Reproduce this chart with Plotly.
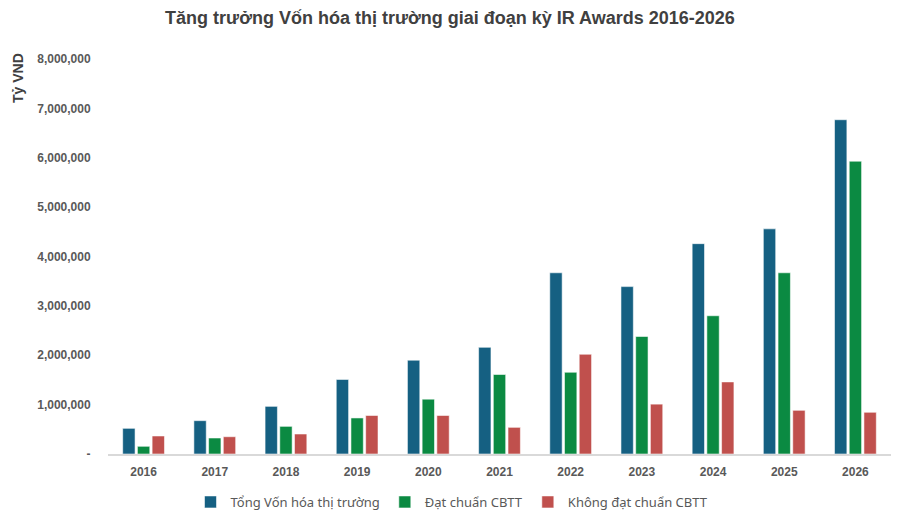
import plotly.graph_objects as go

years = ["2016", "2017", "2018", "2019", "2020", "2021", "2022", "2023", "2024", "2025", "2026"]
tong_von_hoa = [520000, 675000, 965000, 1510000, 1900000, 2160000, 3670000, 3390000, 4260000, 4560000, 6770000]
dat_chuan = [156000, 324000, 560000, 730000, 1110000, 1610000, 1655000, 2380000, 2800000, 3670000, 5930000]
khong_dat_chuan = [365000, 350000, 405000, 780000, 780000, 540000, 2020000, 1010000, 1460000, 885000, 845000]

series_names = ["Tổng Vốn hóa thị trường", "Đạt chuẩn CBTT", "Không đạt chuẩn CBTT"]
colors = ["#156082", "#0B8A42", "#C0504D"]

y_tickvals = [0, 1000000, 2000000, 3000000, 4000000, 5000000, 6000000, 7000000, 8000000]
y_ticktext = ["-", "1,000,000", "2,000,000", "3,000,000", "4,000,000", "5,000,000", "6,000,000", "7,000,000", "8,000,000"]

fig = go.Figure()
for name, vals, c in zip(series_names, [tong_von_hoa, dat_chuan, khong_dat_chuan], colors):
    fig.add_trace(go.Bar(
        x=years, y=vals, name=name,
        marker=dict(color=c, line=dict(color="rgba(255,255,255,0.55)", width=1)),
    ))

fig.update_layout(
    width=900, height=519, autosize=False,
    margin=dict(l=108, r=9, t=59, b=65, autoexpand=False),
    paper_bgcolor="white", plot_bgcolor="white",
    barmode="group", bargap=0.38, bargroupgap=0.16,
    title=dict(
        text="<b>Tăng trưởng Vốn hóa thị trường giai đoạn kỳ IR Awards 2016-2026</b>",
        x=0.5, xanchor="center", xref="container",
        y=1 - 18 / 519, yanchor="middle", yref="container",
        font=dict(family="Liberation Sans, Arial, sans-serif", size=18, color="#404040"),
    ),
    showlegend=True,
    legend=dict(
        orientation="h", x=(452 - 108) / 783, xanchor="center", xref="paper",
        y=-48 / 395, yanchor="middle", yref="paper",
        font=dict(family="Noto Sans, sans-serif", size=13, color="#595959"),
        itemwidth=30,
    ),
    font=dict(family="Liberation Sans, Arial, sans-serif"),
)

fig.update_xaxes(
    showgrid=False, showline=True, linecolor="#D9D9D9", linewidth=2,
    ticks="outside", ticklen=6, tickcolor="rgba(0,0,0,0)", tickangle=0,
    tickfont=dict(family="Liberation Sans, Arial, sans-serif", size=12, color="#595959", weight="bold"),
)
fig.update_yaxes(
    range=[0, 8000000], tickvals=y_tickvals, ticktext=y_ticktext,
    showgrid=False, showline=False, zeroline=False,
    ticks="outside", ticklen=14, tickcolor="rgba(0,0,0,0)",
    tickfont=dict(family="Liberation Sans, Arial, sans-serif", size=12, color="#595959", weight="bold"),
)

fig.add_annotation(
    text="<b>Tỷ VND</b>", textangle=-90,
    xref="paper", yref="paper", x=-90 / 783, y=1 - 19 / 395,
    xanchor="center", yanchor="middle", showarrow=False,
    font=dict(family="Liberation Sans, Arial, sans-serif", size=14, color="#404040"),
)

fig.write_html("out.html")
